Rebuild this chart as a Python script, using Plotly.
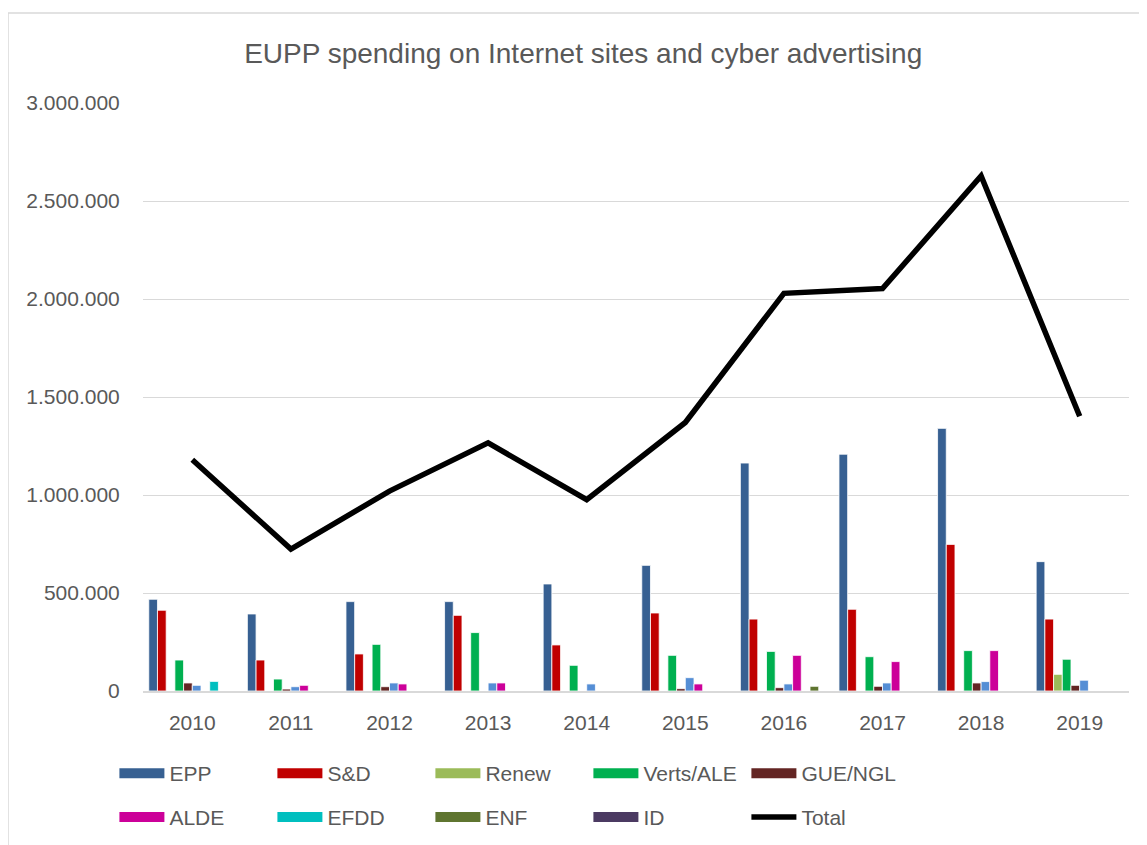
import plotly.graph_objects as go

years = ["2010", "2011", "2012", "2013", "2014", "2015", "2016", "2017", "2018", "2019"]

epp    = [468000, 393000, 456000, 456000, 546000, 641000, 1163000, 1208000, 1340000, 660000]
sd     = [412000, 158000, 189000, 386000, 235000, 398000, 367000, 417000, 748000, 367000]
renew  = [None, None, None, None, None, None, None, None, None, 85000]
verts  = [158000, 61000, 238000, 298000, 131000, 182000, 202000, 175000, 206000, 162000]
gue    = [41000, 10000, 22000, None, None, 12000, 17000, 24000, 41000, 29000]
ecr    = [29000, 22000, 41000, 41000, 36000, 68000, 36000, 41000, 48000, 55000]
alde   = [None, 29000, 36000, 41000, None, 36000, 182000, 150000, 206000, None]
efdd   = [49000, None, None, None, None, None, None, None, None, None]
enf    = [None, None, None, None, None, None, 24000, None, None, None]
id_grp = [None, None, None, None, None, None, None, None, None, None]
total  = [1180000, 724000, 1020000, 1266000, 976000, 1370000, 2029000, 2053000, 2628000, 1402000]

series = [
    ("EPP", epp, "#376092"),
    ("S&D", sd, "#C00000"),
    ("Renew", renew, "#9BBB59"),
    ("Verts/ALE", verts, "#00B050"),
    ("GUE/NGL", gue, "#632523"),
    ("ECR", ecr, "#558ED5"),
    ("ALDE", alde, "#CC0099"),
    ("EFDD", efdd, "#00BFBF"),
    ("ENF", enf, "#5F7530"),
    ("ID", id_grp, "#4B3A62"),
]

FONT = "Liberation Sans, Arial, sans-serif"
GREY = "#595959"

W, H = 1139, 837
ML, MR, MT, MB = 135, 18, 95, 154
PW, PH = W - ML - MR, H - MT - MB

fig = go.Figure()
for name, vals, color in series:
    fig.add_trace(go.Bar(x=years, y=vals, name=name,
                         marker=dict(color=color, line=dict(color="white", width=0.8)),
                         showlegend=False))

fig.add_trace(go.Scatter(x=years, y=total, name="Total", mode="lines",
                         line=dict(color="black", width=5.5), showlegend=False))

# legend proxies (wide swatches like the original)
legend_order_row1 = ["EPP", "S&D", "Renew", "Verts/ALE", "GUE/NGL"]
legend_order_row2 = ["ALDE", "EFDD", "ENF", "ID"]
cmap = {n: c for n, _, c in series}
for n in legend_order_row1:
    fig.add_trace(go.Scatter(x=[None], y=[None], mode="lines", name=n,
                             line=dict(color=cmap[n], width=12), legend="legend"))
for n in legend_order_row2:
    fig.add_trace(go.Scatter(x=[None], y=[None], mode="lines", name=n,
                             line=dict(color=cmap[n], width=12), legend="legend2"))
fig.add_trace(go.Scatter(x=[None], y=[None], mode="lines", name="Total",
                         line=dict(color="black", width=5.5), legend="legend2"))

leg_common = dict(orientation="h", xanchor="left", yanchor="middle",
                  font=dict(family=FONT, size=21, color=GREY),
                  entrywidth=98, entrywidthmode="pixels", itemwidth=45,
                  bgcolor="rgba(0,0,0,0)", traceorder="normal")

fig.update_layout(
    width=W, height=H,
    margin=dict(l=ML, r=MR, t=MT, b=MB, autoexpand=False),
    paper_bgcolor="white", plot_bgcolor="white",
    separators=",.",
    barmode="group", bargap=0.117, bargroupgap=0,
    title=dict(text="EUPP spending on Internet sites and cyber advertising",
               x=0.505, xanchor="center", y=0.946, yanchor="middle",
               font=dict(family=FONT, size=28, color=GREY)),
    xaxis=dict(type="category", showgrid=False, showline=True, linecolor="#D9D9D9", linewidth=2,
               ticks="outside", ticklen=12, tickcolor="rgba(0,0,0,0)",
               tickfont=dict(family=FONT, size=21, color=GREY)),
    yaxis=dict(range=[0, 3000000], dtick=500000, tickformat=",.0f", showgrid=True,
               gridcolor="#D9D9D9", gridwidth=1.3, zeroline=False, showline=False,
               ticks="outside", ticklen=18, tickcolor="rgba(0,0,0,0)",
               tickfont=dict(family=FONT, size=21, color=GREY)),
    legend=dict(x=-0.029, y=-0.1405, **leg_common),
    legend2=dict(x=-0.029, y=-0.215, **leg_common),
    shapes=[dict(type="rect", xref="paper", yref="paper",
                 x0=(0 - ML) / PW, x1=(1132 - ML) / PW,
                 y0=(PH + MT - 860) / PH, y1=(PH + MT - 5) / PH,
                 line=dict(color="#D9D9D9", width=1.5), fillcolor="rgba(0,0,0,0)", layer="below")],
)

fig.write_html("out.html")
